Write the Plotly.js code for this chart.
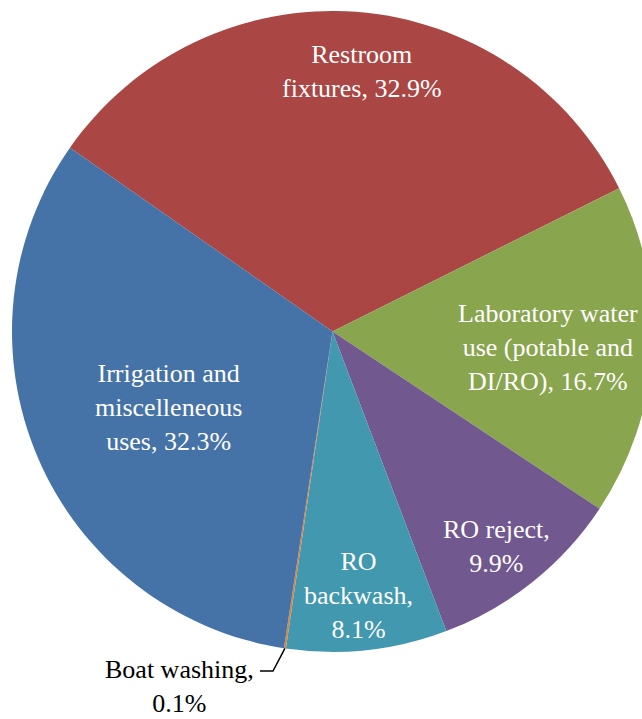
<!DOCTYPE html>
<html>
<head>
<meta charset="utf-8">
<script src="https://cdn.plot.ly/plotly-3.0.1.min.js"></script>
<style>
html,body{margin:0;padding:0;overflow:hidden;background:#fff;width:642px;height:719px;}
#chart{width:653px;height:719px;}
</style>
</head>
<body>
<div id="chart"></div>
<script>
// Data
var categories = ["Restroom fixtures", "Laboratory water use (potable and DI/RO)", "RO reject", "RO backwash", "Boat washing", "Irrigation and miscelleneous uses"];
var values = [32.9, 16.7, 9.9, 8.1, 0.1, 32.3];
var labelText = ["Restroom<br>fixtures, ", "Laboratory water<br>use (potable and<br>DI/RO), ", "RO reject,<br>", "RO<br>backwash,<br>", "Boat washing,<br>", "Irrigation and<br>miscelleneous<br>uses, "];
var colors = ["#AA4643", "#89A54E", "#71588F", "#4198AF", "#DB843D", "#4572A7"];
var textColors = ["#ffffff", "#ffffff", "#ffffff", "#ffffff", "#000000", "#ffffff"];

// Layout: label placement (pixel positions of label centres) and plot geometry
var labelPos = [[362, 71], [548, 347], [496, 546], [358, 595], [179, 686], [168, 407]];
var M = {l: 12, r: 0, t: 11, b: 67};
var W = 653, H = 719;
var plotW = W - M.l - M.r, plotH = H - M.t - M.b;
var rotation = -55;
var FONT = "Liberation Serif, Times New Roman, serif";

function pxX(px){ return (px - M.l) / plotW; }
function pxY(py){ return 1 - (py - M.t) / plotH; }

var texts = labelText.map(function(t, i){ return t + values[i].toFixed(1) + "%"; });

var trace = {
  type: "pie",
  labels: categories,
  values: values,
  textinfo: "none",
  hoverinfo: "label+percent",
  sort: false,
  direction: "clockwise",
  rotation: rotation,
  marker: {colors: colors, line: {width: 0}},
  showlegend: false,
  automargin: false
};

var annotations = texts.map(function(t, i){
  return {
    xref: "paper", yref: "paper",
    x: pxX(labelPos[i][0]), y: pxY(labelPos[i][1]),
    text: t, showarrow: false, align: "center",
    xanchor: "center", yanchor: "middle",
    font: {family: FONT, size: 26, color: textColors[i]}
  };
});

// Leader line for the tiny "Boat washing" slice, starting at the slice's outer edge
var total = values.reduce(function(a, b){ return a + b; }, 0);
var before = 0;
for (var k = 0; k < 4; k++) before += values[k];
var midDeg = rotation + 360 * (before + values[4] / 2) / total;
var th = midDeg * Math.PI / 180;
var x0 = 0.5 + 0.5 * Math.sin(th), y0 = 0.5 + 0.5 * Math.cos(th);
var leader = {
  type: "path", xref: "paper", yref: "paper",
  path: "M " + x0 + "," + y0 + " L " + pxX(273) + "," + pxY(671) + " L " + pxX(260) + "," + pxY(671),
  line: {color: "#000000", width: 1.5}
};

var layout = {
  width: W,
  height: H,
  margin: M,
  paper_bgcolor: "#ffffff",
  showlegend: false,
  annotations: annotations,
  shapes: [leader]
};

Plotly.newPlot("chart", [trace], layout, {displayModeBar: false, staticPlot: true});
</script>
</body>
</html>
